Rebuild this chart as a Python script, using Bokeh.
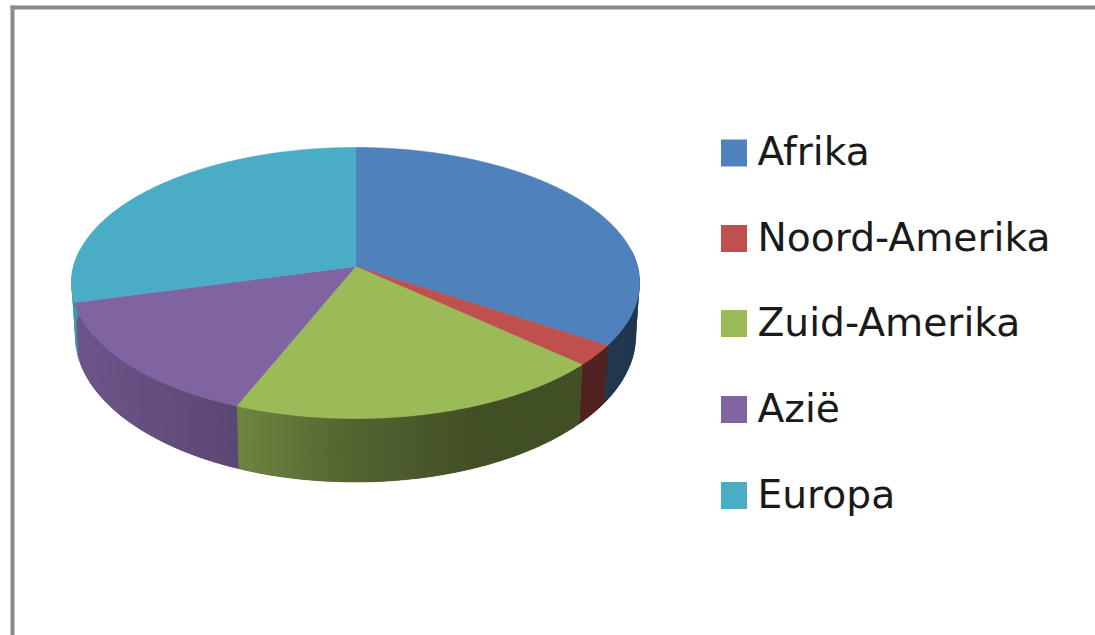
import numpy as np
from bokeh.embed import file_html
from bokeh.models import Range1d
from bokeh.plotting import figure
from bokeh.resources import INLINE
from bokeh.core.properties import value

categories = ["Afrika", "Noord-Amerika", "Zuid-Amerika", "Azië", "Europa"]
shares = [34.3, 2.5, 19.3, 14.7, 29.2]
top_colors = ["#4F81BD", "#C0504D", "#9BBB59", "#8064A2", "#4BACC6"]
legend_y = [152.5, 238, 323, 409, 495]

CX, CY, R, H, K = 355.0, 266.0, 281.9, 133.5, 0.1217
DROP, H_BOTTOM, S_BOTTOM = 51.0, 144.5, 0.987


def top_xy(t):
    u, v = np.sin(t), -np.cos(t)
    w = 1 - K * v
    return CX + R * u / w, CY + H * v / w


def bottom_xy(t):
    u, v = np.sin(t), -np.cos(t)
    w = 1 - K * v
    return CX + S_BOTTOM * R * u / w, CY + DROP + H_BOTTOM * v / w


def shade(hex_color, f):
    rgb = [int(hex_color[i:i + 2], 16) for i in (1, 3, 5)]
    return "#%02x%02x%02x" % tuple(int(round(c * f)) for c in rgb)


def wall_factor(t):
    return np.interp(np.sin(t), [-1.0, -0.37, 0.0, 0.4, 1.0], [0.87, 0.71, 0.53, 0.42, 0.42])


p = figure(width=1095, height=635, output_backend="svg", toolbar_location=None,
           x_range=Range1d(0, 1095), y_range=Range1d(635, 0), min_border=0,
           background_fill_color="white",
           border_fill_color="white", outline_line_color=None)
p.axis.visible = False
p.grid.visible = False

# chart-area frame
p.quad(left=[10, 10], right=[14, 1095], top=[5, 5], bottom=[635, 9],
       fill_color="#8a8a8a", line_color=None)

edges = np.concatenate([[0], np.cumsum(shares)]) / np.sum(shares) * 2 * np.pi

# side walls: a base shape per slice, then overlapping strips for the shading
for a, b, col in zip(edges[:-1], edges[1:], top_colors):
    lo, hi = a, b
    if lo < np.pi / 2 and hi > np.pi / 2:
        lo = np.pi / 2 - 0.12
    if hi > 3 * np.pi / 2 and lo < 3 * np.pi / 2:
        hi = 3 * np.pi / 2 + 0.12
    if np.cos((lo + hi) / 2) > 0.5:
        continue
    n = max(3, int(np.degrees(hi - lo) / 1.5))
    ts = np.linspace(lo, hi, n + 1)
    tx, ty = top_xy(ts)
    bx, by = bottom_xy(ts)
    base = shade(col, float(wall_factor((lo + hi) / 2)))
    p.patch(np.r_[tx, bx[::-1]], np.r_[ty, by[::-1]], fill_color=base, line_color=base, line_width=0.5)
    sx, sy, sc = [], [], []
    for t0, t1 in zip(ts[:-1], ts[1:]):
        t2 = min(t1 + 0.01, hi)
        x0, y0 = top_xy(t0)
        x1, y1 = top_xy(t2)
        x2, y2 = bottom_xy(t2)
        x3, y3 = bottom_xy(t0)
        sx.append([x0, x1, x2, x3])
        sy.append([y0, y1, y2, y3])
        sc.append(shade(col, float(wall_factor((t0 + t1) / 2))))
    p.patches(sx, sy, fill_color=sc, line_color=None)

# top face
for a, b, col in zip(edges[:-1], edges[1:], top_colors):
    ts = np.linspace(a, b, max(8, int(np.degrees(b - a)) * 2))
    x, y = top_xy(ts)
    p.patch(np.r_[CX, x], np.r_[CY, y], fill_color=col, line_color=col, line_width=0.6)

# legend
for name, col, y in zip(categories, top_colors, legend_y):
    p.rect([733.5], [y], width=26, height=27, fill_color=col, line_color=None)
    p.text([757], [y - 1.5], text=[name], text_font=value("DejaVu Sans"),
           text_font_size="39.2px", text_color="#1a1a1a",
           text_align="left", text_baseline="middle")

open("out.html", "w").write(file_html(p, INLINE))
